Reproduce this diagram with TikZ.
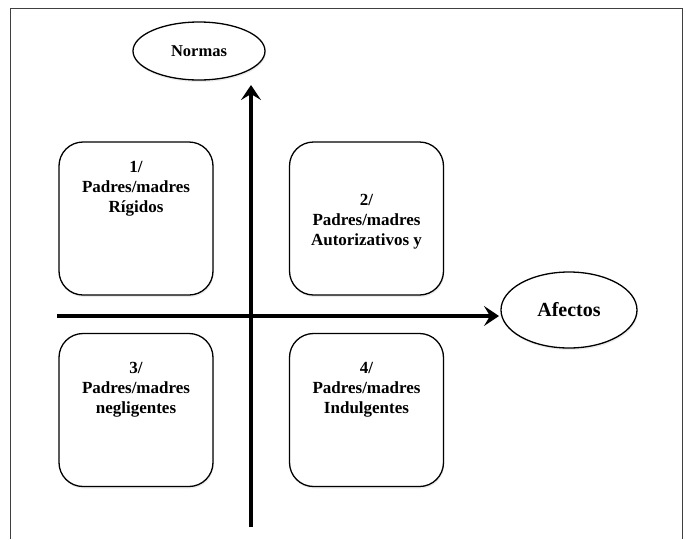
\documentclass[tikz,border=0pt]{standalone}
\usepackage{fontspec}
\setmainfont{Liberation Serif}
\usetikzlibrary{shapes.geometric,arrows.meta,shadows}

\begin{document}
\begin{tikzpicture}[x=1pt,y=-1pt,
  quad/.style={draw,line width=1.3pt,rounded corners=24pt,fill=white,
    minimum width=154pt,minimum height=153pt,
    drop shadow={shadow xshift=0.8pt,shadow yshift=-2pt,fill=black!15}},
  qtext/.style={align=center,font=\fontsize{17}{20}\selectfont\bfseries},
  oval/.style={draw,ellipse,line width=1.3pt,fill=white,inner sep=0pt,
    drop shadow={shadow xshift=0.8pt,shadow yshift=-2pt,fill=black!15}},
  axisline/.style={line width=3.5pt,arrows={-Stealth[length=15pt,width=20pt,inset=6pt]}}]
  \useasboundingbox (0,0) rectangle (686,539);
  % frame
  \draw[line width=1pt,black!75] (10,539) -- (10,8) -- (682,8) -- (682,539);
  % ovals
  \node[oval,minimum width=132pt,minimum height=58pt,
    font=\fontsize{16.5}{20}\selectfont\bfseries] (norm) at (199,51) {Normas};
  \node[oval,minimum width=136pt,minimum height=76pt,
    font=\fontsize{20}{24}\selectfont\bfseries] (afec) at (569,310) {Afectos};
  % axes
  \coordinate (vbot) at (251,527);
  \coordinate (vtop) at (251,85);
  \coordinate (hleft) at (57,316);
  \coordinate (hright) at (499,316);
  \draw[axisline] (vbot) -- (vtop);
  \draw[axisline] (hleft) -- (hright);
  % quadrants
  \node[quad] (q1) at (136,218.5) {};
  \node[quad] (q2) at (366.5,218.5) {};
  \node[quad] (q3) at (136,410) {};
  \node[quad] (q4) at (366.5,410) {};
  \node[qtext] (t1) at ([yshift=30pt]q1.center) {1/\\Padres/madres\\Rígidos};
  \node[qtext] (t2) at ([yshift=-3.5pt]q2.center) {2/\\Padres/madres\\Autorizativos y};
  \node[qtext] (t3) at ([yshift=20pt]q3.center) {3/\\Padres/madres\\negligentes};
  \node[qtext] (t4) at ([yshift=20pt]q4.center) {4/\\Padres/madres\\Indulgentes};
\end{tikzpicture}
\end{document}
